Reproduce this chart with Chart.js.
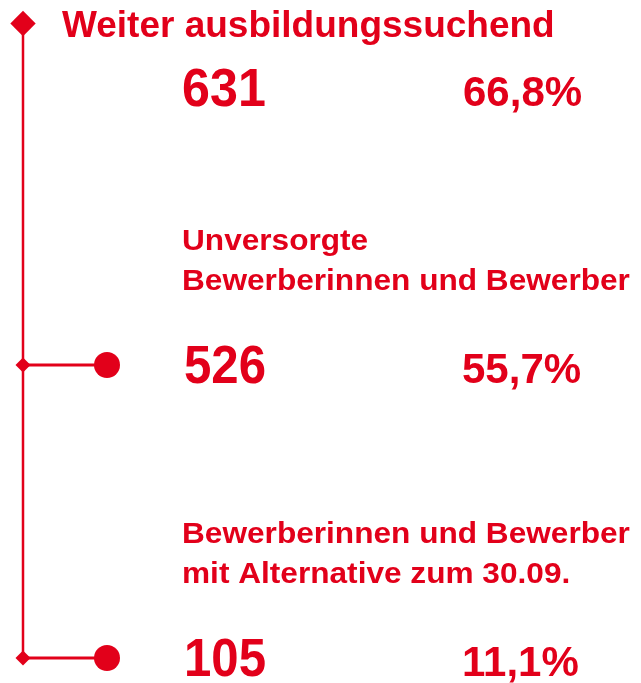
<!DOCTYPE html>
<html>
<head>
<meta charset="utf-8">
<script src="https://cdn.jsdelivr.net/npm/chart.js@4/dist/chart.umd.min.js"></script>
<style>
  body { margin: 0; background: #fff; }
  #wrap { width: 641px; height: 683px; position: relative; }
</style>
</head>
<body>
<div id="wrap"><canvas id="myChart"></canvas></div>
<script>
// rows of the tree: header + two branches
const rowLabels = [
  ['Weiter ausbildungssuchend'],
  ['Unversorgte', 'Bewerberinnen und Bewerber'],
  ['Bewerberinnen und Bewerber', 'mit Alternative zum 30.09.']
];
const counts = [631, 526, 105];
const shares = [66.8, 55.7, 11.1];

const red = 'rgb(226, 0, 26)';
const fontFam = "'Liberation Sans', Arial, sans-serif";

let fmtShare = v => v.toFixed(1).replace('.', ',') + '%';

// text helper, sx stretches horizontally
let drawText = (ctx, txt, x, y, size, sx, align) => {
  ctx.save();
  ctx.font = 'bold ' + size + 'px ' + fontFam;
  ctx.fillStyle = red;
  ctx.textAlign = align;
  ctx.textBaseline = 'alphabetic';
  ctx.translate(x, y);
  ctx.scale(sx, 1);
  ctx.fillText(txt, 0, 0);
  ctx.restore();
};

const treePlugin = {
  id: 'tree',
  beforeDatasetsDraw(chart) {
    let ctx = chart.ctx;
    let xs = chart.scales.x, ys = chart.scales.y;
    let sx = xs.getPixelForValue(0);
    let top = ys.getPixelForValue(0) - 48.5;
    let bottom = ys.getPixelForValue(counts.length - 1);
    ctx.save();
    ctx.strokeStyle = red;
    ctx.lineWidth = 2.5;
    ctx.beginPath();
    ctx.moveTo(sx, top);
    ctx.lineTo(sx, bottom);
    ctx.stroke();
    // big diamond on top of the spine
    let r = 12.7;
    ctx.fillStyle = red;
    ctx.beginPath();
    ctx.moveTo(sx, top - r);
    ctx.lineTo(sx + r, top);
    ctx.lineTo(sx, top + r);
    ctx.lineTo(sx - r, top);
    ctx.closePath();
    ctx.fill();
    ctx.restore();
  },
  afterDraw(chart) {
    let ctx = chart.ctx;
    let ys = chart.scales.y;
    counts.forEach((c, i) => {
      let y = ys.getPixelForValue(i);
      if (i === 0) {
        drawText(ctx, rowLabels[0][0], 62, y - 35, 37, 1, 'left');
        drawText(ctx, String(c), 224, y + 34, 54, 0.93, 'center');
        drawText(ctx, fmtShare(shares[i]), 463, y + 34, 42, 1.0, 'left');
      } else {
        rowLabels[i].forEach((line, k) => {
          drawText(ctx, line, 182, y - 115 + k * 40, 29, 1.09, 'left');
        });
        drawText(ctx, String(c), 225, y + 18, 54, 0.91, 'center');
        drawText(ctx, fmtShare(shares[i]), 462, y + 18, 42, 1.0, 'left');
      }
    });
  }
};

// one connector per branch row: diamond on the spine, dot at the end
let branchSets = counts.map((c, i) => ({
  label: rowLabels[i].join(' '),
  data: [{x: 0, y: i}, {x: 1, y: i}],
  showLine: true,
  borderColor: red,
  borderWidth: 3,
  backgroundColor: red,
  pointBorderWidth: 0,
  pointStyle: ['rectRot', 'circle'],
  pointRadius: [7.5, 13],
  pointHoverRadius: [7.5, 13],
  clip: false
})).filter((d, i) => i > 0);

let ctx = document.getElementById('myChart').getContext('2d');
let chart = new Chart(ctx, {
  type: 'scatter',
  data: { datasets: branchSets },
  options: {
    responsive: true,
    maintainAspectRatio: false,
    animation: false,
    layout: { padding: { top: 72, bottom: 25, left: 23, right: 30 } },
    plugins: { legend: { display: false }, tooltip: { enabled: false } },
    scales: {
      x: { type: 'linear', min: 0, max: 7, display: false },
      y: { type: 'linear', min: 0, max: 2, reverse: true, display: false }
    }
  },
  plugins: [treePlugin]
});
</script>
</body>
</html>
